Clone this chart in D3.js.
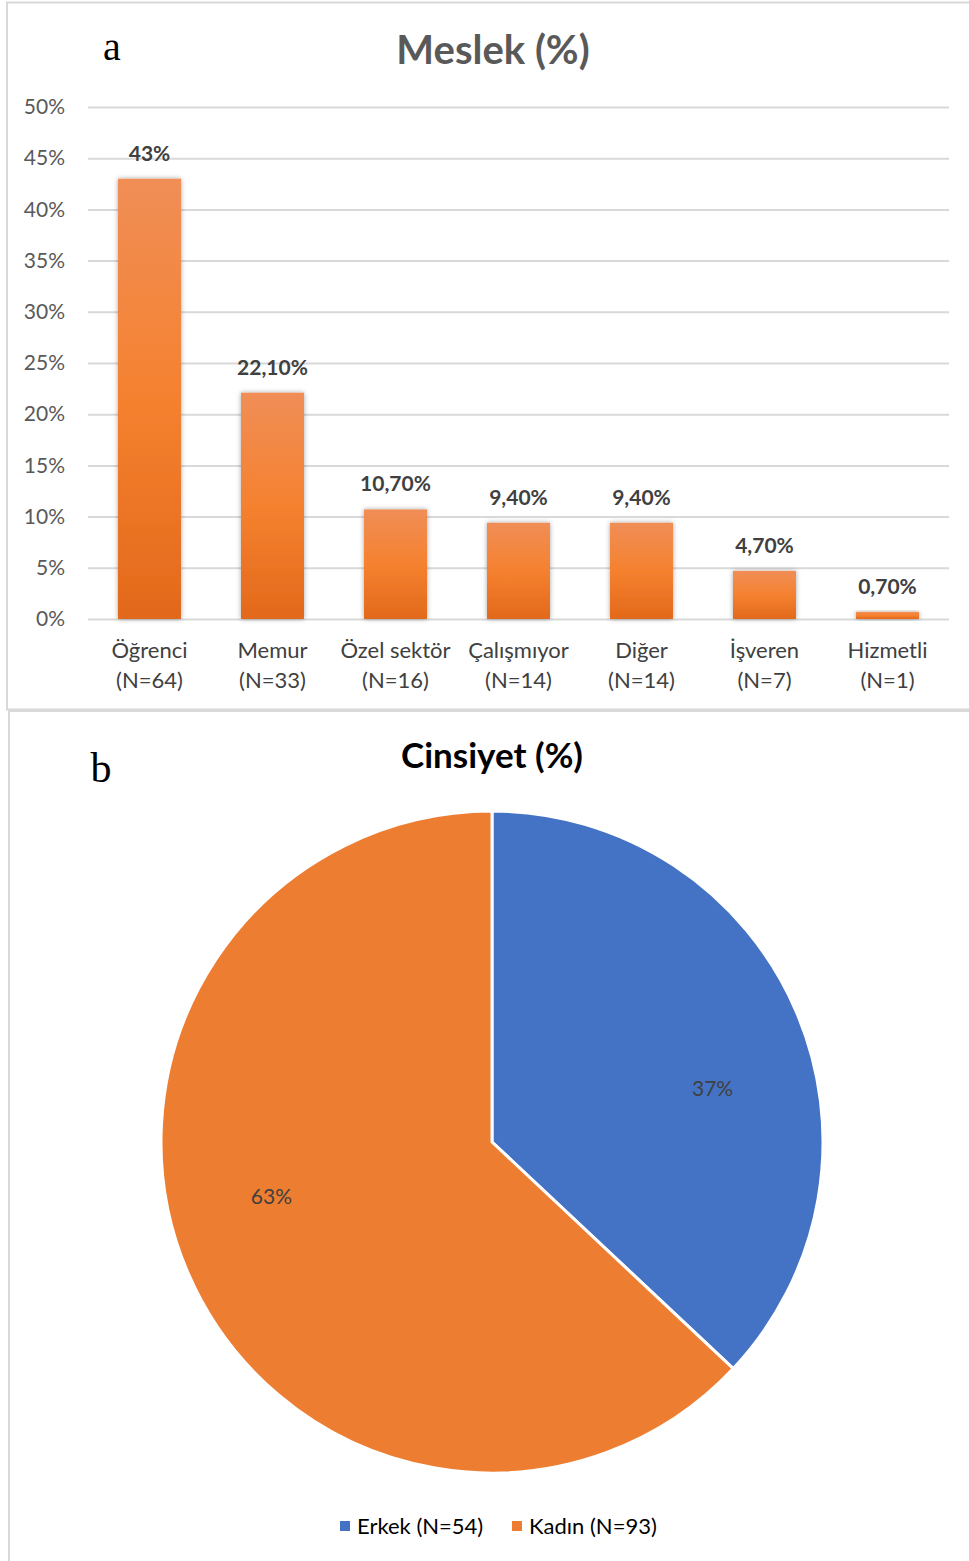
<!DOCTYPE html>
<html>
<head>
<meta charset="utf-8">
<script src="https://cdn.jsdelivr.net/npm/d3@7"></script>
<style>
  html, body { margin: 0; padding: 0; background: #fff; }
  svg { display: block; }
</style>
</head>
<body>
<svg id="chart" width="969" height="1561"></svg>
<script>
// Panel a: occupation shares
const occupations = ["Öğrenci", "Memur", "Özel sektör", "Çalışmıyor", "Diğer", "İşveren", "Hizmetli"];
const occupationN = [64, 33, 16, 14, 14, 7, 1];
const occupationPct = [43, 22.1, 10.7, 9.4, 9.4, 4.7, 0.7];
const occupationLabels = ["43%", "22,10%", "10,70%", "9,40%", "9,40%", "4,70%", "0,70%"];
const yTicks = [0, 5, 10, 15, 20, 25, 30, 35, 40, 45, 50];

// Panel b: gender shares
const genders = ["Erkek", "Kadın"];
const genderN = [54, 93];
const genderPct = [37, 63];
const genderColors = ["#4472C4", "#ED7D31"];

const FONT = "Lato, 'Open Sans', sans-serif";
const svg = d3.select("#chart");

// Chart frames
svg.append("rect").attr("x", 7).attr("y", 2.5).attr("width", 970).attr("height", 707)
  .attr("fill", "none").attr("stroke", "#D9D9D9").attr("stroke-width", 2);
svg.append("rect").attr("x", 9).attr("y", 711).attr("width", 970).attr("height", 900)
  .attr("fill", "none").attr("stroke", "#D9D9D9").attr("stroke-width", 2);

const defs = svg.append("defs");
const grad = defs.append("linearGradient").attr("id", "barGrad")
  .attr("x1", 0).attr("y1", 0).attr("x2", 0).attr("y2", 1);
grad.append("stop").attr("offset", "0%").attr("stop-color", "#F08E57");
grad.append("stop").attr("offset", "50%").attr("stop-color", "#F5812F");
grad.append("stop").attr("offset", "100%").attr("stop-color", "#E2691B");
const shadow = defs.append("filter").attr("id", "barShadow")
  .attr("x", "-20%").attr("y", "-20%").attr("width", "140%").attr("height", "140%");
shadow.append("feDropShadow").attr("dx", 0).attr("dy", 0).attr("stdDeviation", 2.5)
  .attr("flood-color", "#000").attr("flood-opacity", 0.35);

// ---- Bar chart ----
const x = d3.scaleBand().domain(occupations).range([88, 949]).paddingInner(0.488).paddingOuter(0.244);
const y = d3.scaleLinear().domain([0, 50]).range([619, 107]);

svg.append("text").attr("x", 112).attr("y", 60).attr("text-anchor", "middle")
  .attr("font-family", "'Liberation Serif', 'DejaVu Serif', serif").attr("font-size", 40)
  .attr("fill", "#000").text("a");
svg.append("text").attr("x", 493).attr("y", 64).attr("text-anchor", "middle")
  .attr("font-family", FONT).attr("font-weight", "bold").attr("font-size", 40)
  .attr("fill", "#595959").text("Meslek (%)");

const yAxis = d3.axisLeft(y).tickValues(yTicks).tickFormat(d => d + "%")
  .tickSize(-(949 - 88)).tickPadding(23);
const gy = svg.append("g").attr("transform", "translate(88,0)").call(yAxis);
gy.select(".domain").remove();
gy.selectAll(".tick line").attr("stroke", "#D9D9D9").attr("stroke-width", 2);
gy.selectAll(".tick text").attr("font-family", FONT).attr("font-size", 21).attr("fill", "#595959");

svg.append("g").selectAll("rect").data(occupations).join("rect")
  .attr("x", d => x(d)).attr("width", x.bandwidth())
  .attr("y", (d, i) => y(occupationPct[i]))
  .attr("height", (d, i) => y(0) - y(occupationPct[i]))
  .attr("fill", "url(#barGrad)").attr("filter", "url(#barShadow)");

svg.append("g").selectAll("text").data(occupations).join("text")
  .attr("x", d => x(d) + x.bandwidth() / 2)
  .attr("y", (d, i) => y(occupationPct[i]) - 18)
  .attr("text-anchor", "middle").attr("font-family", FONT).attr("font-weight", "bold")
  .attr("font-size", 21).attr("fill", "#404040")
  .text((d, i) => occupationLabels[i]);

const xl = svg.append("g").selectAll("text").data(occupations).join("text")
  .attr("text-anchor", "middle").attr("font-family", FONT).attr("font-size", 22).attr("fill", "#404040");
xl.append("tspan").attr("x", d => x(d) + x.bandwidth() / 2).attr("y", 658).text(d => d);
xl.append("tspan").attr("x", d => x(d) + x.bandwidth() / 2).attr("y", 688)
  .text((d, i) => "(N=" + occupationN[i] + ")");

// ---- Pie chart ----
svg.append("text").attr("x", 101).attr("y", 782).attr("text-anchor", "middle")
  .attr("font-family", "'Liberation Serif', 'DejaVu Serif', serif").attr("font-size", 42)
  .attr("fill", "#000").text("b");
svg.append("text").attr("x", 492).attr("y", 768).attr("text-anchor", "middle")
  .attr("font-family", FONT).attr("font-weight", "bold").attr("font-size", 35)
  .attr("fill", "#000").text("Cinsiyet (%)");

const cx = 492, cy = 1142, R = 331;
const pie = d3.pie().sort(null).value(d => d);
const arcs = pie(genderPct);
const arc = d3.arc().innerRadius(0).outerRadius(R);
const gp = svg.append("g").attr("transform", `translate(${cx},${cy})`);
gp.selectAll("path").data(arcs).join("path")
  .attr("d", arc).attr("fill", (d, i) => genderColors[i])
  .attr("stroke", "#fff").attr("stroke-width", 3).attr("stroke-linejoin", "round");

gp.selectAll("text").data(arcs).join("text")
  .attr("transform", d => {
    const a = (d.startAngle + d.endAngle) / 2 + 0.17;
    const r = 227;
    return `translate(${r * Math.sin(a)},${-r * Math.cos(a) + 8})`;
  })
  .attr("text-anchor", "middle").attr("font-family", FONT).attr("font-size", 21)
  .attr("fill", "#404040").text(d => d.data + "%");

// Legend
const legendX = [340, 512];
const lg = svg.append("g").selectAll("g").data(genders).join("g")
  .attr("transform", (d, i) => `translate(${legendX[i]},1521)`);
lg.append("rect").attr("width", 10).attr("height", 10).attr("fill", (d, i) => genderColors[i]);
lg.append("text").attr("x", 17).attr("y", 13).attr("font-family", FONT).attr("font-size", 22)
  .attr("fill", "#000").text((d, i) => d + " (N=" + genderN[i] + ")");
</script>
</body>
</html>
